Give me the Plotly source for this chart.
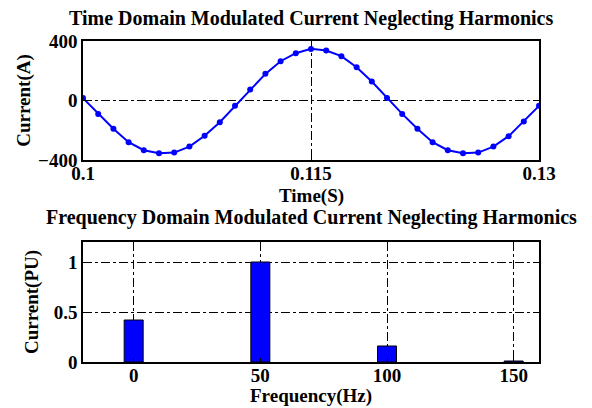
import plotly.graph_objects as go

# Time-domain data (s, A)
time_s = [0.100, 0.101, 0.102, 0.103, 0.104, 0.105, 0.106, 0.107, 0.108, 0.109,
          0.110, 0.111, 0.112, 0.113, 0.114, 0.115, 0.116, 0.117, 0.118, 0.119,
          0.120, 0.121, 0.122, 0.123, 0.124, 0.125, 0.126, 0.127, 0.128, 0.129, 0.130]
current_a = [16, -90, -190, -280, -334, -355, -350, -310, -237, -146,
             -36, 74, 179, 264, 318, 347, 336, 298, 224, 128,
             16, -90, -190, -280, -334, -355, -350, -310, -240, -141, -36]

# Frequency-domain data (Hz, PU)
freq_hz = [0, 50, 100, 150]
current_pu = [0.42, 1.0, 0.16, 0.01]

time_ticks = [0.1, 0.115, 0.13]
time_tick_text = ["0.1", "0.115", "0.13"]
amp_ticks = [-400, 0, 400]
pu_ticks = [0, 0.5, 1]
pu_tick_text = ["0", "0.5", "1"]

FONT = "Liberation Serif"
tick_font = dict(family=FONT, size=19, color="black", weight="bold")
label_font = dict(family=FONT, size=19, color="black", weight="bold")
title_font = dict(family=FONT, size=20, color="black", weight="bold")

fig = go.Figure()
fig.add_trace(go.Scatter(x=time_s, y=current_a, mode="lines+markers",
                         line=dict(color="#0000ff", width=2),
                         marker=dict(color="#0000ff", size=6),
                         xaxis="x", yaxis="y", showlegend=False))
fig.add_trace(go.Bar(x=freq_hz, y=current_pu, width=7.5,
                     marker=dict(color="#0000ff", line=dict(color="black", width=1)),
                     xaxis="x2", yaxis="y2", showlegend=False))

common = dict(showline=True, mirror=True, linecolor="black", linewidth=1.5,
              ticks="inside", ticklen=4, tickcolor="black",
              showgrid=True, gridcolor="black", griddash="dashdot", gridwidth=1,
              zeroline=False, tickfont=tick_font, automargin=False)

# page body offsets the figure by ~8px, so the figure is 584x400
y_top = [1 - 119 / 321, 1]
y_bot = [0, 1 - 201 / 321]

fig.update_layout(
    width=584, height=400,
    margin=dict(l=75, r=53, t=33, b=46),
    paper_bgcolor="white", plot_bgcolor="white",
    xaxis=dict(domain=[0, 1], anchor="y", range=[0.1, 0.13],
               tickvals=time_ticks, ticktext=time_tick_text,
               ticklabelstandoff=-5, **common),
    yaxis=dict(domain=y_top, anchor="x", range=[-400, 400], tickvals=amp_ticks,
               title=dict(text="Current(A)", font=label_font, standoff=2), **common),
    xaxis2=dict(domain=[0, 1], anchor="y2", range=[-20, 160], tickvals=freq_hz,
                ticklabelstandoff=-5, **common),
    yaxis2=dict(domain=y_bot, anchor="x2", range=[0, 1.2], tickvals=pu_ticks,
                ticktext=pu_tick_text,
                title=dict(text="Current(PU)", font=label_font, standoff=10), **common),
    annotations=[
        dict(text="Time Domain Modulated Current Neglecting Harmonics",
             x=0.5, xref="paper", y=1, yref="paper", yshift=9, yanchor="bottom",
             showarrow=False, font=title_font),
        dict(text="Frequency Domain Modulated Current Neglecting Harmonics",
             x=0.5, xref="paper", y=y_bot[1], yref="paper", yshift=11, yanchor="bottom",
             showarrow=False, font=title_font),
        dict(text="Time(S)", x=0.5, xref="paper", y=y_top[0], yref="paper",
             yshift=-36, yanchor="middle", showarrow=False, font=label_font),
        dict(text="Frequency(Hz)", x=0.5, xref="paper", y=0, yref="paper",
             yshift=-34, yanchor="middle", showarrow=False, font=label_font),
    ],
)

fig.write_html("out.html")
